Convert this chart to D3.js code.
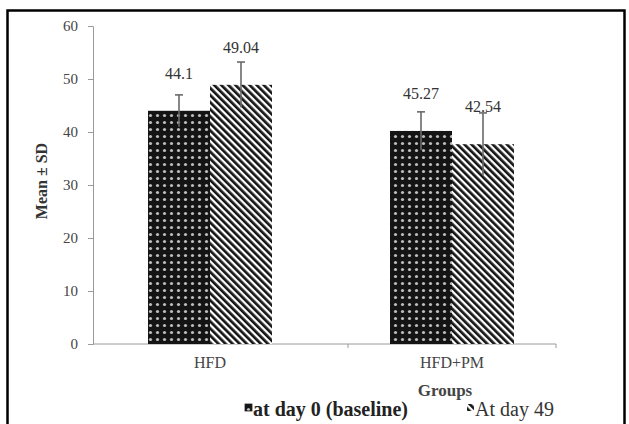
<!DOCTYPE html>
<html>
  <head>
    <meta charset="utf-8">
    <title>Mean SD by group</title>
    <script src="https://cdn.jsdelivr.net/npm/d3@7"></script>
    <style media="screen">
      body {
        margin: 0;
        background: #fff;
      }
      svg {
        display: block;
        font-family: "Liberation Serif", "Times New Roman", serif;
      }
      .axis path, .axis line {
        stroke: #9a9a9a;
      }
      .axis text {
        fill: #444;
        font-size: 15px;
        font-family: "Liberation Serif", serif;
      }
    </style>
  </head>
  <body>
    <script type="text/javascript">

    // values
    const groups = ["HFD", "HFD+PM"];
    const series = ["at day 0 (baseline)", "At day 49"];
    const day0 = [44.0, 40.2];
    const day49 = [48.9, 37.7];
    const sd0 = [3.0, 3.6];
    const sd49 = [4.3, 5.9];
    const label0 = ["44.1", "45.27"];
    const label49 = ["49.04", "42.54"];
    const yTicks = [0, 10, 20, 30, 40, 50, 60];

    let width = 629, height = 424;

    var svg = d3.select('body').append('svg')
      .attr('width', width)
      .attr('height', height);

    // patterns for the two series
    let defs = svg.append('defs');
    let dots = defs.append('pattern')
      .attr('id', 'dots')
      .attr('patternUnits', 'userSpaceOnUse')
      .attr('width', 7).attr('height', 7);
    dots.append('rect').attr('width', 7).attr('height', 7).attr('fill', '#141414');
    dots.append('circle').attr('cx', 3.5).attr('cy', 3.5).attr('r', 1.6).attr('fill', '#bdbdbd');

    let hatch = defs.append('pattern')
      .attr('id', 'hatch')
      .attr('patternUnits', 'userSpaceOnUse')
      .attr('width', 5).attr('height', 5)
      .attr('patternTransform', 'rotate(-45)');
    hatch.append('rect').attr('width', 5).attr('height', 5).attr('fill', '#fff');
    hatch.append('rect').attr('width', 2.7).attr('height', 5).attr('fill', '#151515');

    const fills = ['url(#dots)', 'url(#hatch)'];

    // frame
    svg.append('rect')
      .attr('x', 7.5).attr('y', 10.5)
      .attr('width', 617).attr('height', 440)
      .attr('fill', 'none')
      .attr('stroke', '#000')
      .attr('stroke-width', 2.5);

    var x = d3.scaleBand().domain(groups).range([89, 573]);
    var xs = d3.scaleBand().domain(series).range([0, 124]);
    var y = d3.scaleLinear().domain([0, 60]).range([344, 26]);

    // y axis
    svg.append('g')
      .attr('class', 'axis')
      .attr('transform', 'translate(93,0)')
      .call(d3.axisLeft(y).tickValues(yTicks).tickSize(5).tickSizeOuter(5).tickPadding(10));

    // x axis line with its ticks
    let xa = svg.append('g').attr('class', 'axis');
    xa.append('path').attr('d', 'M93,' + y(0) + 'H556').attr('fill', 'none');
    [348, 556].forEach(t => {
      xa.append('line').attr('x1', t).attr('x2', t)
        .attr('y1', y(0)).attr('y2', y(0) + 4);
    });
    xa.selectAll('.glabel')
      .data(groups).enter()
      .append('text')
      .attr('x', d => x(d) + x.bandwidth() / 2)
      .attr('y', y(0) + 24)
      .attr('text-anchor', 'middle')
      .style('font-size', '16px')
      .text(d => d);

    let rows = [];
    groups.forEach((g, i) => {
      rows.push({g: g, s: series[0], v: day0[i], sd: sd0[i], lab: label0[i], k: 0});
      rows.push({g: g, s: series[1], v: day49[i], sd: sd49[i], lab: label49[i], k: 1});
    });
    const bx = d => x(d.g) + x.bandwidth() / 2 - xs.bandwidth() + xs(d.s);

    svg.selectAll('.bar')
      .data(rows).enter()
      .append('rect')
      .attr('class', 'bar')
      .attr('x', bx)
      .attr('y', d => y(d.v))
      .attr('width', xs.bandwidth())
      .attr('height', d => y(0) - y(d.v))
      .attr('fill', d => fills[d.k]);

    // error bars
    let err = svg.selectAll('.err')
      .data(rows).enter()
      .append('g')
      .attr('stroke', '#6a6a6a')
      .attr('stroke-width', 1.6);
    err.append('line')
      .attr('x1', d => bx(d) + xs.bandwidth() / 2)
      .attr('x2', d => bx(d) + xs.bandwidth() / 2)
      .attr('y1', d => y(d.v - d.sd))
      .attr('y2', d => y(d.v + d.sd));
    err.append('line')
      .attr('x1', d => bx(d) + xs.bandwidth() / 2 - 4)
      .attr('x2', d => bx(d) + xs.bandwidth() / 2 + 4)
      .attr('y1', d => y(d.v + d.sd))
      .attr('y2', d => y(d.v + d.sd));

    // value labels
    svg.selectAll('.val')
      .data(rows).enter()
      .append('text')
      .attr('x', d => bx(d) + xs.bandwidth() / 2)
      .attr('y', d => y(d.v) - 32)
      .attr('text-anchor', 'middle')
      .style('font-size', '16px')
      .style('fill', '#333')
      .text(d => d.lab);

    // titles
    svg.append('text')
      .attr('transform', 'rotate(-90)')
      .attr('x', -181)
      .attr('y', 47)
      .attr('text-anchor', 'middle')
      .style('font-size', '16px')
      .style('font-weight', 'bold')
      .style('fill', '#333')
      .text('Mean \u00b1 SD');

    svg.append('text')
      .attr('x', 445)
      .attr('y', 396)
      .attr('text-anchor', 'middle')
      .style('font-size', '17px')
      .style('font-weight', 'bold')
      .style('fill', '#444')
      .text('Groups');

    // legend
    let leg = svg.append('g');
    leg.append('rect').attr('x', 245).attr('y', 404).attr('width', 7).attr('height', 7)
      .attr('fill', fills[0]).attr('stroke', '#222').attr('stroke-width', 0.8);
    leg.append('text').attr('x', 253).attr('y', 416)
      .style('font-size', '20px').style('font-weight', 'bold').style('fill', '#222')
      .text(series[0]);
    leg.append('rect').attr('x', 467).attr('y', 404).attr('width', 7).attr('height', 7)
      .attr('fill', fills[1]);
    leg.append('text').attr('x', 475).attr('y', 416)
      .style('font-size', '20px').style('fill', '#333')
      .text(series[1]);
    </script>
  </body>
</html>
